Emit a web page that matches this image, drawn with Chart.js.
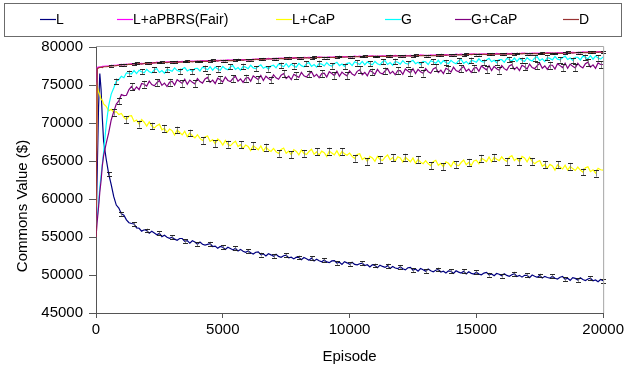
<!DOCTYPE html>
<html>
<head>
<meta charset="utf-8">
<title>Commons Value</title>
<script src="https://cdn.jsdelivr.net/npm/chart.js@4"></script>
<style>
  html, body { margin: 0; padding: 0; background: #fff; }
</style>
</head>
<body>
<canvas id="grafico" width="627" height="377"></canvas>
<script>
// episodios amostrados (mais densos no inicio, onde as curvas mudam rapido)
const episodes = [
  0, 50, 100, 150, 200, 250, 300, 400, 500, 600, 700, 800, 900,
  1000, 1100, 1200, 1300, 1400, 1500, 1600, 1700, 1800, 1900,
  2000, 2100, 2200, 2300, 2400, 2500, 2600, 2700, 2800, 2900,
  3000, 3100, 3200, 3300, 3400, 3500, 3600, 3700, 3800, 3900,
  4000, 4100, 4200, 4300, 4400, 4500, 4600, 4700, 4800, 4900,
  5000, 5100, 5200, 5300, 5400, 5500, 5600, 5700, 5800, 5900,
  6000, 6100, 6200, 6300, 6400, 6500, 6600, 6700, 6800, 6900,
  7000, 7100, 7200, 7300, 7400, 7500, 7600, 7700, 7800, 7900,
  8000, 8100, 8200, 8300, 8400, 8500, 8600, 8700, 8800, 8900,
  9000, 9100, 9200, 9300, 9400, 9500, 9600, 9700, 9800, 9900,
  10000, 10100, 10200, 10300, 10400, 10500, 10600, 10700, 10800, 10900,
  11000, 11100, 11200, 11300, 11400, 11500, 11600, 11700, 11800, 11900,
  12000, 12100, 12200, 12300, 12400, 12500, 12600, 12700, 12800, 12900,
  13000, 13100, 13200, 13300, 13400, 13500, 13600, 13700, 13800, 13900,
  14000, 14100, 14200, 14300, 14400, 14500, 14600, 14700, 14800, 14900,
  15000, 15100, 15200, 15300, 15400, 15500, 15600, 15700, 15800, 15900,
  16000, 16100, 16200, 16300, 16400, 16500, 16600, 16700, 16800, 16900,
  17000, 17100, 17200, 17300, 17400, 17500, 17600, 17700, 17800, 17900,
  18000, 18100, 18200, 18300, 18400, 18500, 18600, 18700, 18800, 18900,
  19000, 19100, 19200, 19300, 19400, 19500, 19600, 19700, 19800, 19900,
  20000
];

const valL = [
  55500, 64000, 72000, 76500, 74400, 70600, 67600, 65300, 63300, 61900, 60300, 59200, 58800,
  58050, 57880, 57250, 56880, 56780, 56720, 56200, 56150, 55770, 55950,
  55850, 55500, 55750, 55530, 55300, 55480, 55050, 55220, 54970, 54830,
  54970, 54720, 54570, 54800, 54800, 54430, 54530, 54200, 54500, 54350,
  54050, 54330, 54050, 53930, 54030, 54120, 53750, 53800, 53520, 53750,
  53650, 53350, 53650, 53480, 53300, 53530, 53150, 53370, 53120, 52980,
  53170, 52920, 52770, 53000, 53050, 52680, 52780, 52500, 52800, 52650,
  52450, 52730, 52450, 52330, 52530, 52620, 52250, 52350, 52120, 52350,
  52300, 52000, 52300, 52130, 51950, 52230, 51850, 52070, 51870, 51730,
  51970, 51720, 51620, 51850, 51900, 51580, 51680, 51400, 51750, 51600,
  51400, 51680, 51400, 51330, 51480, 51570, 51250, 51350, 51070, 51350,
  51250, 50950, 51300, 51130, 51000, 51230, 50850, 51120, 50920, 50830,
  51070, 50820, 50670, 50950, 51000, 50630, 50780, 50500, 50850, 50700,
  50500, 50780, 50550, 50430, 50630, 50720, 50400, 50500, 50270, 50550,
  50500, 50200, 50550, 50380, 50250, 50480, 50150, 50420, 50220, 50130,
  50370, 50120, 50020, 50250, 50350, 50030, 50130, 49900, 50200, 50100,
  49900, 50180, 49950, 49830, 50030, 50170, 49800, 49950, 49720, 49950,
  49950, 49650, 50000, 49830, 49700, 49930, 49600, 49820, 49670, 49580,
  49820, 49570, 49470, 49700, 49800, 49430, 49580, 49300, 49650, 49550,
  49350, 49630, 49400, 49280, 49480, 49570, 49250, 49350, 49120, 49400,
  49250
];

const valAPBRS = [
  56500, 77300, 77350, 77400, 77350, 77450, 77450, 77500, 77500, 77550, 77600, 77600, 77650,
  77700, 77650, 77750, 77700, 77800, 77750, 77850, 77800, 77850, 77800,
  77900, 77850, 77950, 77900, 78000, 77950, 78000, 77950, 78050, 78000,
  78050, 78000, 78100, 78050, 78100, 78050, 78150, 78100, 78150, 78100,
  78150, 78100, 78200, 78150, 78200, 78150, 78250, 78200, 78250, 78200,
  78250, 78200, 78300, 78250, 78300, 78250, 78350, 78300, 78350, 78300,
  78350, 78300, 78400, 78350, 78450, 78400, 78450, 78400, 78500, 78450,
  78500, 78450, 78550, 78500, 78550, 78500, 78600, 78550, 78600, 78550,
  78600, 78550, 78650, 78600, 78650, 78600, 78650, 78600, 78700, 78650,
  78650, 78600, 78700, 78650, 78700, 78650, 78750, 78700, 78750, 78700,
  78750, 78700, 78800, 78750, 78800, 78750, 78800, 78750, 78850, 78800,
  78800, 78750, 78850, 78800, 78850, 78800, 78850, 78800, 78900, 78850,
  78850, 78800, 78900, 78850, 78900, 78850, 78900, 78850, 78950, 78900,
  78900, 78850, 78950, 78900, 78950, 78900, 79000, 78950, 79000, 78950,
  79000, 78950, 79050, 79000, 79050, 79000, 79050, 79000, 79100, 79050,
  79050, 79000, 79100, 79050, 79100, 79050, 79100, 79050, 79150, 79100,
  79100, 79050, 79150, 79100, 79150, 79100, 79150, 79100, 79200, 79150,
  79150, 79100, 79200, 79150, 79200, 79150, 79200, 79150, 79250, 79200,
  79200, 79150, 79250, 79200, 79250, 79200, 79300, 79250, 79300, 79250,
  79300, 79250, 79350, 79300, 79350, 79300, 79350, 79300, 79400, 79350,
  79350
];

const valLCaP = [
  59000, 74800, 74100, 73700, 73100, 73000, 72500, 72200, 71600, 71800, 71400, 71500, 71100,
  71250, 70750, 70450, 70900, 70950, 70200, 70400, 69850, 70450, 70100,
  69600, 70150, 69600, 69350, 69650, 69850, 69100, 69300, 68750, 69200,
  69000, 68430, 69070, 68750, 68430, 68920, 68200, 68680, 68320, 68050,
  68450, 67970, 67700, 68170, 68300, 67570, 67800, 67270, 67900, 67600,
  67100, 67700, 67200, 67000, 67350, 67600, 66900, 67150, 66650, 67100,
  66900, 66370, 67030, 66750, 66470, 66980, 66300, 66820, 66480, 66250,
  66650, 66220, 66000, 66520, 66700, 66020, 66300, 65820, 66500, 66250,
  65800, 66450, 66000, 65850, 66250, 66550, 65900, 66200, 65750, 66300,
  66100, 65600, 66300, 66050, 65800, 66350, 65700, 66250, 65950, 65750,
  66050, 65600, 65350, 65850, 65950, 65200, 65450, 64950, 65600, 65400,
  64950, 65600, 65200, 65050, 65500, 65800, 65150, 65450, 65000, 65550,
  65400, 64850, 65500, 65200, 64900, 65400, 64700, 65200, 64850, 64650,
  65050, 64630, 64400, 64920, 65100, 64430, 64700, 64230, 64900, 64700,
  64250, 64920, 64500, 64370, 64800, 65130, 64500, 64830, 64410, 65000,
  65100, 64630, 65370, 65150, 64930, 65520, 64900, 65480, 65220, 65050,
  65550, 65150, 64950, 65500, 65700, 65050, 65350, 64900, 65600, 65400,
  64900, 65500, 64950, 64650, 64900, 65050, 64300, 64550, 64050, 64550,
  64350, 63800, 64500, 64200, 63950, 64450, 63800, 64300, 64000, 63750,
  64200, 63800, 63550, 64100, 64250, 63600, 63850, 63400, 64050, 63850,
  63800
];

const valG = [
  56500, 57600, 59400, 61500, 63100, 64600, 66100, 69700, 72300, 73800, 74600, 75500, 75700,
  76150, 75950, 76600, 76550, 76450, 76900, 76500, 76950, 76750, 76600,
  77050, 76750, 76600, 77000, 77150, 76650, 76900, 76550, 77050, 76950,
  76800, 77250, 76900, 76800, 77100, 77300, 76850, 77050, 76750, 77150,
  77200, 76850, 77350, 77200, 77000, 77400, 76950, 77350, 77100, 76950,
  77450, 77150, 77000, 77400, 77550, 77050, 77300, 76950, 77450, 77350,
  77150, 77600, 77250, 77150, 77450, 77650, 77200, 77400, 77100, 77500,
  77600, 77250, 77750, 77600, 77400, 77800, 77350, 77750, 77500, 77350,
  77850, 77550, 77400, 77800, 77950, 77450, 77700, 77350, 77850, 77750,
  77500, 77950, 77600, 77500, 77800, 78000, 77550, 77750, 77450, 77850,
  77900, 77550, 78050, 77900, 77700, 78100, 77650, 78050, 77800, 77650,
  78100, 77800, 77650, 78050, 78200, 77700, 77950, 77600, 78100, 78000,
  77750, 78200, 77850, 77750, 78050, 78250, 77800, 78000, 77700, 78100,
  78050, 77700, 78200, 78050, 77850, 78250, 77800, 78200, 77950, 77800,
  78250, 77950, 77800, 78200, 78350, 77850, 78100, 77750, 78250, 78150,
  78000, 78450, 78100, 78000, 78300, 78500, 78050, 78250, 77950, 78350,
  78350, 78000, 78500, 78350, 78150, 78550, 78100, 78500, 78250, 78100,
  78600, 78300, 78150, 78550, 78700, 78200, 78450, 78100, 78600, 78500,
  78300, 78750, 78400, 78300, 78600, 78800, 78350, 78550, 78250, 78650,
  78650, 78300, 78800, 78650, 78450, 78850, 78400, 78800, 78550, 78400,
  78700
];

const valGCaP = [
  55000, 57100, 58900, 60900, 62400, 64400, 65700, 67300, 68700, 70400, 71500, 72500, 72900,
  73750, 73600, 73650, 74400, 74800, 74300, 74750, 74400, 75200, 75100,
  74850, 75500, 75050, 74900, 75300, 75600, 74950, 75250, 74800, 75350,
  75500, 75000, 75700, 75450, 75200, 75750, 75100, 75650, 75350, 75150,
  75850, 75450, 75250, 75800, 76000, 75350, 75650, 75200, 75900, 75700,
  75400, 76050, 75600, 75450, 75850, 76150, 75500, 75800, 75350, 75900,
  76000, 75500, 76200, 75950, 75700, 76250, 75600, 76150, 75850, 75650,
  76350, 75950, 75750, 76300, 76500, 75850, 76150, 75700, 76400, 76200,
  76000, 76650, 76200, 76050, 76450, 76750, 76100, 76400, 75950, 76500,
  76550, 76050, 76750, 76500, 76250, 76800, 76150, 76700, 76400, 76200,
  76850, 76450, 76250, 76800, 77000, 76350, 76650, 76200, 76900, 76700,
  76400, 77050, 76600, 76450, 76850, 77150, 76500, 76800, 76350, 76900,
  76900, 76400, 77100, 76850, 76600, 77150, 76500, 77050, 76750, 76550,
  77150, 76750, 76550, 77100, 77300, 76650, 76950, 76500, 77200, 77000,
  76700, 77350, 76900, 76750, 77150, 77450, 76800, 77100, 76650, 77200,
  77300, 76800, 77500, 77250, 77000, 77550, 76900, 77450, 77150, 76950,
  77550, 77150, 76950, 77500, 77700, 77050, 77350, 76900, 77600, 77400,
  77100, 77750, 77300, 77150, 77550, 77850, 77200, 77500, 77050, 77600,
  77600, 77100, 77800, 77550, 77300, 77850, 77200, 77750, 77450, 77250,
  77850, 77450, 77250, 77800, 78000, 77350, 77650, 77200, 77900, 77700,
  77700
];

const valD = [
  55000, 77100, 77250, 77300, 77350, 77300, 77400, 77400, 77450, 77500, 77500, 77550, 77600,
  77650, 77700, 77650, 77750, 77700, 77800, 77750, 77800, 77750, 77850,
  77850, 77900, 77850, 77950, 77900, 77950, 77900, 78000, 77950, 78000,
  78000, 78050, 77950, 78050, 78000, 78100, 78050, 78100, 78050, 78100,
  78100, 78150, 78100, 78150, 78100, 78200, 78150, 78200, 78150, 78250,
  78200, 78250, 78200, 78250, 78200, 78300, 78250, 78300, 78250, 78350,
  78300, 78350, 78300, 78400, 78350, 78400, 78350, 78450, 78400, 78450,
  78450, 78500, 78450, 78500, 78450, 78550, 78500, 78550, 78500, 78600,
  78550, 78600, 78550, 78600, 78550, 78600, 78550, 78650, 78600, 78650,
  78600, 78650, 78600, 78650, 78600, 78700, 78650, 78700, 78650, 78700,
  78700, 78750, 78700, 78750, 78700, 78750, 78700, 78800, 78750, 78800,
  78750, 78800, 78750, 78800, 78750, 78800, 78750, 78850, 78800, 78850,
  78800, 78850, 78800, 78850, 78800, 78850, 78800, 78900, 78850, 78900,
  78850, 78900, 78850, 78900, 78850, 78950, 78900, 78950, 78900, 78950,
  78950, 79000, 78950, 79000, 78950, 79000, 78950, 79050, 79000, 79050,
  79000, 79050, 79000, 79050, 79000, 79050, 79000, 79100, 79050, 79100,
  79050, 79100, 79050, 79100, 79050, 79100, 79050, 79150, 79100, 79150,
  79100, 79150, 79100, 79150, 79100, 79150, 79100, 79200, 79150, 79200,
  79150, 79200, 79150, 79200, 79150, 79250, 79200, 79250, 79200, 79250,
  79250, 79300, 79250, 79300, 79250, 79300, 79250, 79350, 79300, 79350,
  79300
];

const nomes = ["L", "L+aPBRS(Fair)", "L+CaP", "G", "G+CaP", "D"];
const cores = ["#000080", "#ff00ff", "#ffff00", "#00ffff", "#800080", "#993333"];
const series = [valL, valAPBRS, valLCaP, valG, valGCaP, valD];
// meia altura das barras de erro de cada serie
const erros = [250, 120, 450, 350, 450, 120];

const ticksX = [0, 5000, 10000, 15000, 20000];
const ticksY = [45000, 50000, 55000, 60000, 65000, 70000, 75000, 80000];

const fonte = "Arial, 'Liberation Sans', sans-serif";

// barras de erro a cada cinco pontos, deslocadas por serie
const barrasErro = {
  id: "barrasErro",
  afterDatasetsDraw(chart) {
    const { ctx, scales: { x, y } } = chart;
    ctx.save();
    ctx.lineWidth = 1;
    series.forEach((vals, s) => {
      for (let i = 8 + s; i < vals.length; i += 5) {
        const px = Math.round(x.getPixelForValue(episodes[i])) + 0.5;
        const y1 = y.getPixelForValue(vals[i] + erros[s]);
        const y2 = y.getPixelForValue(vals[i] - erros[s]);
        ctx.strokeStyle = "rgba(110,110,110,0.8)";
        ctx.beginPath();
        ctx.moveTo(px, y1); ctx.lineTo(px, y2);
        ctx.stroke();
        ctx.strokeStyle = "rgba(20,20,20,0.9)";
        ctx.beginPath();
        ctx.moveTo(px - 2.5, Math.round(y1) + 0.5); ctx.lineTo(px + 2.5, Math.round(y1) + 0.5);
        ctx.moveTo(px - 2.5, Math.round(y2) + 0.5); ctx.lineTo(px + 2.5, Math.round(y2) + 0.5);
        ctx.stroke();
      }
    });
    ctx.restore();
  }
};

// moldura do grafico, legenda em caixa e titulo do eixo y
const moldura = {
  id: "moldura",
  afterDraw(chart) {
    const { ctx, chartArea: a } = chart;
    ctx.save();
    ctx.strokeStyle = "#a6a6a6";
    ctx.lineWidth = 1;
    ctx.beginPath();
    ctx.moveTo(a.left, a.top - 0.5);
    ctx.lineTo(a.right + 0.5, a.top - 0.5);
    ctx.lineTo(a.right + 0.5, a.bottom);
    ctx.stroke();

    // caixa da legenda
    ctx.strokeStyle = "#6b6b6b";
    ctx.strokeRect(4.5, 3.5, 617, 33);

    const posX = [40, 117, 276, 385, 455, 563];
    ctx.font = "14px " + fonte;
    ctx.textBaseline = "middle";
    ctx.fillStyle = "#000";
    chart.data.datasets.forEach((ds, i) => {
      ctx.strokeStyle = ds.borderColor;
      ctx.lineWidth = 1.2;
      ctx.beginPath();
      ctx.moveTo(posX[i], 19.5);
      ctx.lineTo(posX[i] + 16, 19.5);
      ctx.stroke();
      ctx.fillText(ds.label, posX[i] + 16, 20);
    });

    // titulo do eixo y
    ctx.font = "15px " + fonte;
    ctx.textAlign = "center";
    ctx.translate(23, 206);
    ctx.rotate(-Math.PI / 2);
    ctx.fillText("Commons Value ($)", 0, 0);
    ctx.restore();
  }
};

new Chart(document.getElementById("grafico"), {
  type: "line",
  data: {
    datasets: series.map((vals, s) => ({
      label: nomes[s],
      data: episodes.map((ep, i) => ({ x: ep, y: vals[i] })),
      borderColor: cores[s],
      backgroundColor: cores[s],
      borderWidth: 1.2,
      pointRadius: 0,
      tension: 0,
      order: series.length - s
    }))
  },
  options: {
    responsive: false,
    animation: false,
    events: [],
    layout: { padding: { top: 47, right: 23, left: 0, bottom: 0 } },
    plugins: { legend: { display: false }, tooltip: { enabled: false } },
    scales: {
      x: {
        type: "linear",
        min: ticksX[0],
        max: ticksX[ticksX.length - 1],
        afterBuildTicks: sc => { sc.ticks = ticksX.map(v => ({ value: v })); },
        afterFit: sc => { sc.height = 64; },
        grid: { drawOnChartArea: false, tickLength: 5, color: "#555" },
        border: { color: "#555" },
        ticks: {
          color: "#000", padding: 3, maxRotation: 0,
          font: { size: 15, family: fonte },
          callback: v => String(v)
        },
        title: {
          display: true,
          text: "Episode",
          color: "#000",
          font: { size: 15, family: fonte },
          padding: { top: 0, bottom: 11 }
        }
      },
      y: {
        min: ticksY[0],
        max: ticksY[ticksY.length - 1],
        afterBuildTicks: sc => { sc.ticks = ticksY.map(v => ({ value: v })); },
        afterFit: sc => { sc.width = 96; },
        grid: { drawOnChartArea: false, tickLength: 7, color: "#555" },
        border: { color: "#555" },
        ticks: {
          color: "#000", padding: 6,
          font: { size: 15, family: fonte },
          callback: v => String(v)
        }
      }
    }
  },
  plugins: [barrasErro, moldura]
});
</script>
</body>
</html>
